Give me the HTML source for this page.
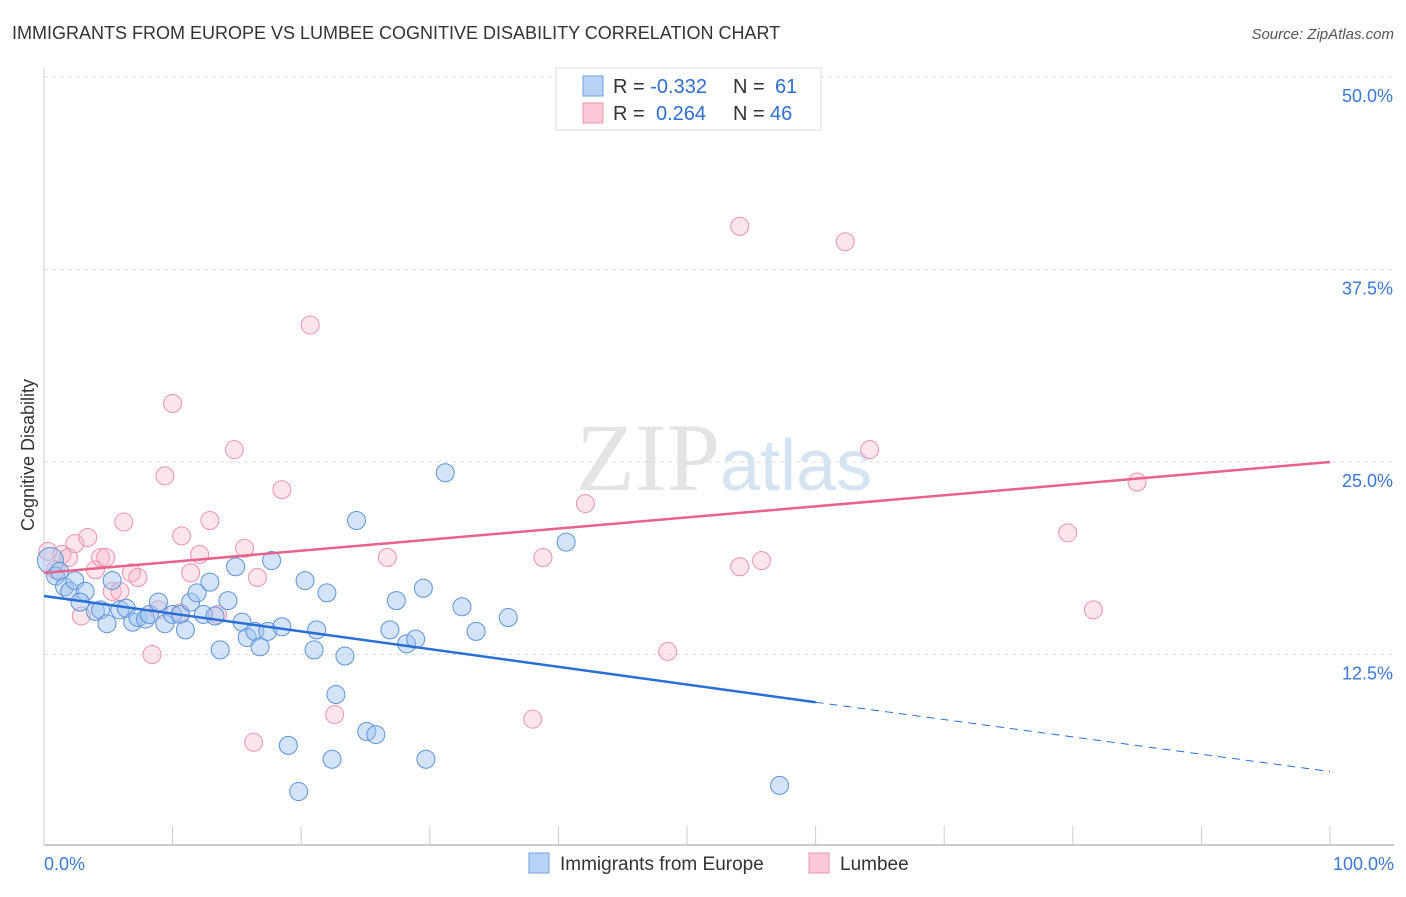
<!DOCTYPE html>
<html><head><meta charset="utf-8"><style>
body{margin:0;background:#fff;font-family:"Liberation Sans",sans-serif}
</style></head><body>
<svg id="c" width="1406" height="892" xmlns="http://www.w3.org/2000/svg">
<text x="12" y="39" font-size="18" fill="#333">IMMIGRANTS FROM EUROPE VS LUMBEE COGNITIVE DISABILITY CORRELATION CHART</text>
<text x="1394" y="39" font-size="15" fill="#555" font-style="italic" text-anchor="end">Source: ZipAtlas.com</text>
<text x="720" y="490" font-size="96" fill="#e4e4e4" text-anchor="end" font-family="Liberation Serif,serif">ZIP</text>
<text x="720" y="490" font-size="72" fill="#d5e3f3">atlas</text>
<text transform="translate(34,455) rotate(-90)" font-size="18" fill="#333" text-anchor="middle">Cognitive Disability</text>
<g id="grid"></g><g id="marks"></g><g id="lines"></g>
<g>
<rect x="556" y="68" width="265" height="62" fill="#fff" stroke="#ddd"/>
<rect x="583" y="76" width="20" height="20" fill="#b8d3f5" stroke="#6fa0e0"/>
<rect x="583" y="103" width="20" height="20" fill="#fac8d7" stroke="#ec93ae"/>
<text x="613" y="93" font-size="20" fill="#333">R = <tspan fill="#2f6fd0">-0.332</tspan><tspan x="733">N = </tspan><tspan fill="#2f6fd0" x="775">61</tspan></text>
<text x="613" y="120" font-size="20" fill="#333">R = <tspan fill="#2f6fd0" x="656">0.264</tspan><tspan x="733">N = </tspan><tspan fill="#2f6fd0" x="770">46</tspan></text>
</g>
<g>
<rect x="529" y="853" width="20" height="20" fill="#b8d3f5" stroke="#6fa0e0"/>
<text x="560" y="870" font-size="19" fill="#333">Immigrants from Europe</text>
<rect x="809" y="853" width="20" height="20" fill="#fac8d7" stroke="#ec93ae"/>
<text x="840" y="870" font-size="19" fill="#333">Lumbee</text>
</g>
</svg>
<script>
const yTicks=[12.5,25,37.5,50];
const yTickLabels=["12.5%","25.0%","37.5%","50.0%"];
const xTickLabels=["0.0%","100.0%"];
const europeX=[0.5,0.9,1.2,1.6,2.0,2.4,3.2,2.8,4.0,4.4,4.9,5.3,5.9,6.4,6.9,7.3,7.9,8.2,8.9,9.4,10.0,10.6,11.0,11.4,11.9,12.4,12.9,13.3,13.7,14.3,14.9,15.4,15.8,16.4,16.8,17.4,17.7,18.5,19.0,19.8,20.3,21.0,21.2,22.0,22.4,22.7,23.4,24.3,25.1,25.8,26.9,27.4,28.2,28.9,29.5,29.7,31.2,32.5,33.6,36.1,40.6,57.2];
const europeY=[18.6,17.6,17.9,16.9,16.6,17.3,16.6,15.9,15.3,15.4,14.5,17.3,15.4,15.5,14.6,14.9,14.8,15.1,15.9,14.5,15.1,15.1,14.1,15.9,16.5,15.1,17.2,15.0,12.8,16.0,18.2,14.6,13.6,14.0,13.0,14.0,18.6,14.3,6.6,3.6,17.3,12.8,14.1,16.5,5.7,9.9,12.4,21.2,7.5,7.3,14.1,16.0,13.2,13.5,16.8,5.7,24.3,15.6,14.0,14.9,19.8,4.0];
const lumbeeX=[0.3,0.9,1.4,1.9,2.4,2.9,3.4,4.0,4.4,4.8,5.3,5.9,6.2,6.8,7.3,8.4,8.9,9.4,10.0,10.6,10.7,11.4,12.1,12.9,13.5,14.8,15.6,16.3,16.6,18.5,20.7,22.6,26.7,38.0,38.8,42.1,48.5,54.1,54.1,55.8,62.3,64.2,79.6,81.6,85.0];
const lumbeeY=[19.2,18.0,19.0,18.8,19.7,15.0,20.1,18.0,18.8,18.8,16.6,16.6,21.1,17.8,17.5,12.5,15.4,24.1,28.8,15.2,20.2,17.8,19.0,21.2,15.1,25.8,19.4,6.8,17.5,23.2,33.9,8.6,18.8,8.3,18.8,22.3,12.7,40.3,18.2,18.6,39.3,25.8,20.4,15.4,23.7];
const europeTrend=[16.3,9.4,4.9];
const lumbeeTrend=[17.8,25.0];
const svg=document.getElementById('c'),NS='http://www.w3.org/2000/svg';
const X=v=>44+v*12.86, Y=v=>847-v*15.4;
function mk(t,a,p){const e=document.createElementNS(NS,t);for(const k in a)e.setAttribute(k,a[k]);p.appendChild(e);return e;}
const grid=document.getElementById('grid');
yTicks.forEach((t,i)=>{
 const l=mk('line',{x1:44,x2:1394,y1:Y(t),y2:Y(t),stroke:'#ddd','stroke-dasharray':'4,4'},grid);
 
 
 const tx=mk('text',{x:1393,y:Y(t)+25,'font-size':18,fill:'#3a78d4','text-anchor':'end'},grid);
 tx.textContent=yTickLabels[i];
 
 
});
const ax=mk('line',{x1:44,x2:1394,y1:845,y2:845,stroke:'#bbb','stroke-width':1.5},grid);


const ay=mk('line',{x1:44,x2:44,y1:68,y2:845,stroke:'#ccc'},grid);


for(let i=1;i<=10;i++){const t=mk('line',{x1:X(i*10),x2:X(i*10),y1:826,y2:845,stroke:'#ccc'},grid);
 
 }
[[0,'start',44],[100,'end',1394]].forEach((d,i)=>{const t=mk('text',{x:d[2],y:870,'font-size':18,fill:'#3a78d4','text-anchor':d[1]},grid);t.textContent=xTickLabels[i];
 
 });
const marks=document.getElementById('marks');
lumbeeX.forEach((x,i)=>{const c=mk('circle',{cx:X(x),cy:Y(lumbeeY[i]),r:9,fill:'rgba(248,180,200,0.35)',stroke:'#ec93ae','stroke-width':1},marks);
 
 });
europeX.forEach((x,i)=>{const c=mk('circle',{cx:X(x),cy:Y(europeY[i]),r:i==0?13:9,fill:'rgba(160,195,240,0.45)',stroke:'#5b93dc','stroke-width':1},marks);
 
 });
const lines=document.getElementById('lines');
const b1=mk('line',{x1:X(0),y1:Y(europeTrend[0]),x2:X(60),y2:Y(europeTrend[1]),stroke:'#2a6fd6','stroke-width':2.5},lines);


const b2=mk('line',{x1:X(60),y1:Y(europeTrend[1]),x2:X(100),y2:Y(europeTrend[2]),stroke:'#2a6fd6','stroke-width':1,'stroke-dasharray':'8,6'},lines);


const p1=mk('line',{x1:X(0),y1:Y(lumbeeTrend[0]),x2:X(100),y2:Y(lumbeeTrend[1]),stroke:'#e8628c','stroke-width':2.5},lines);


</script>
</body></html>
